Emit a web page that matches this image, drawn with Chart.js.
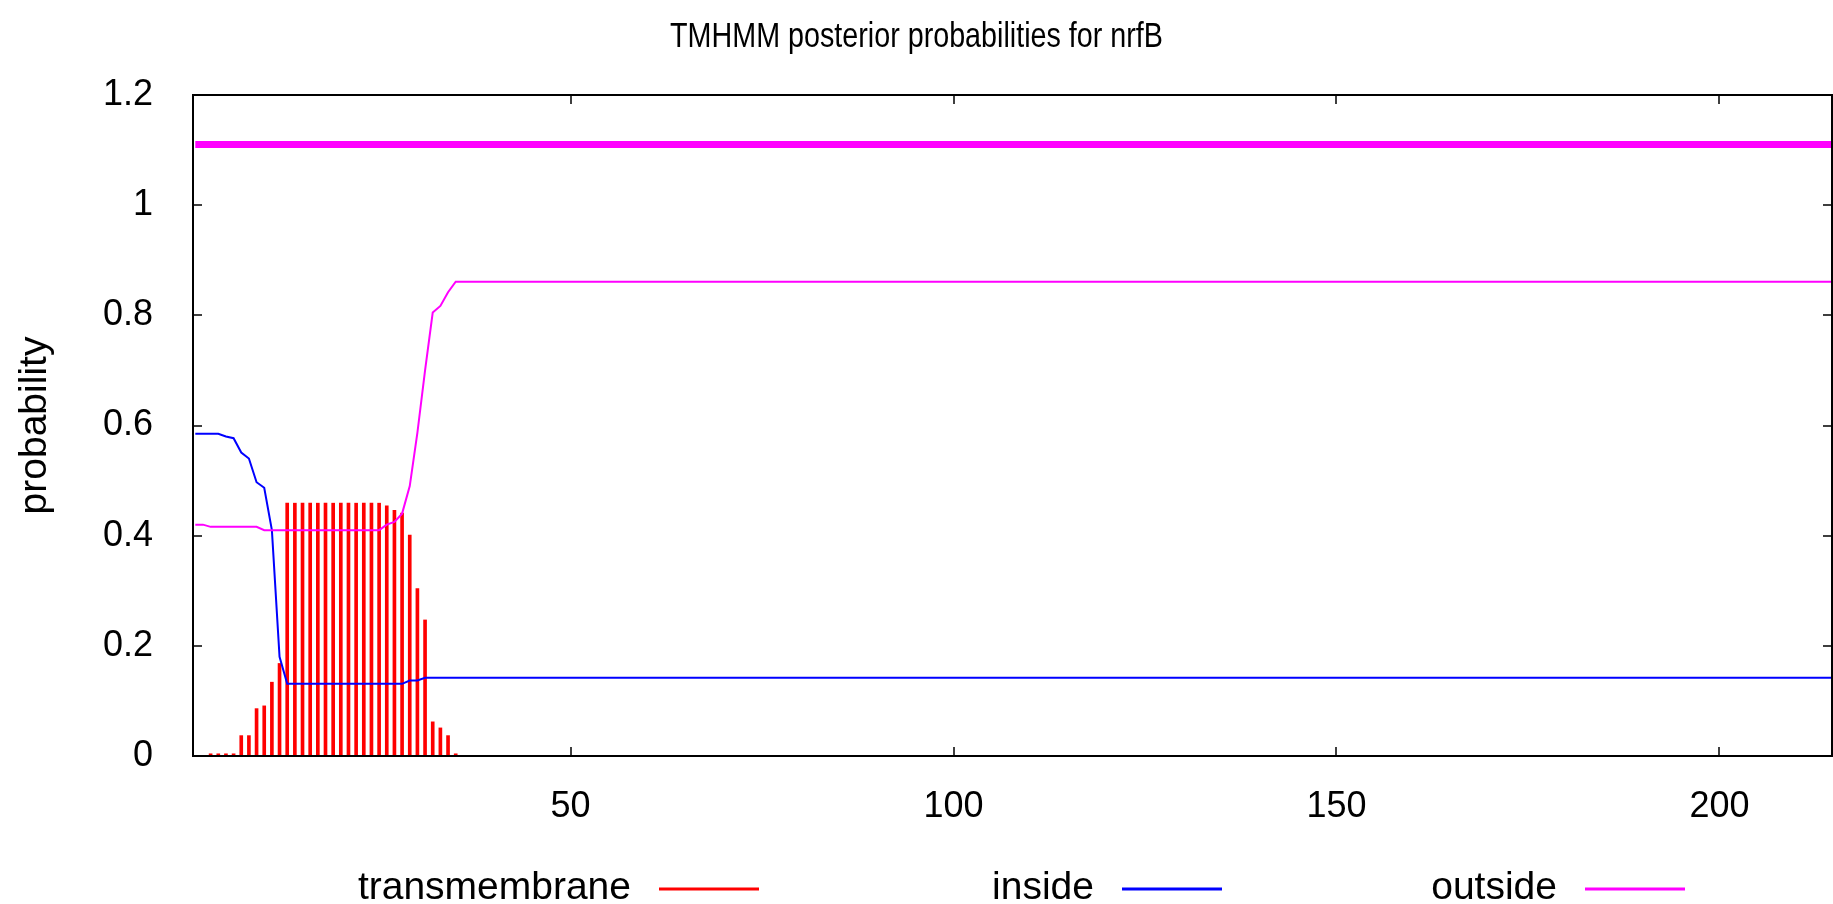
<!DOCTYPE html>
<html>
<head>
<meta charset="utf-8">
<title>TMHMM posterior probabilities for nrfB</title>
<script src="https://cdn.jsdelivr.net/npm/chart.js@4.4.0/dist/chart.umd.min.js"></script>
<style>
  html, body { margin: 0; padding: 0; background: #fff; }
  #wrap { width: 1833px; height: 904px; }
</style>
</head>
<body>
<div id="wrap"><canvas id="tmhmmChart" width="1833" height="904"></canvas></div>
<script>
// Global font settings
Chart.defaults.font.family = "'Liberation Sans', Arial, sans-serif";
Chart.defaults.font.size = 36;
Chart.defaults.color = '#000';

// Residue positions (only the first part of the sequence changes, the rest is flat)
const residues = [1, 2, 3, 4, 5, 6, 7, 8, 9, 10, 11, 12, 13, 14, 15, 16, 17, 18,
    19, 20, 21, 22, 23, 24, 25, 26, 27, 28, 29, 30, 31, 32, 33, 34, 35];
const seqLength = 215;

// Posterior probabilities
const transmembrane = [0, 0, 0.004, 0.004, 0.004, 0.004, 0.037, 0.037, 0.086, 0.091,
    0.134, 0.168, 0.459, 0.459, 0.459, 0.459, 0.459, 0.459, 0.459, 0.459, 0.459,
    0.459, 0.459, 0.459, 0.459, 0.454, 0.446, 0.441, 0.401, 0.304, 0.247, 0.062,
    0.051, 0.037, 0.004];
// inside / outside: values for residues 1..35, then the value held up to seqLength
const inside = [0.585, 0.585, 0.585, 0.585, 0.580, 0.577, 0.551, 0.540, 0.497, 0.487,
    0.41, 0.18, 0.131, 0.131, 0.131, 0.131, 0.131, 0.131, 0.131, 0.131, 0.131,
    0.131, 0.131, 0.131, 0.131, 0.131, 0.131, 0.131, 0.137, 0.137, 0.142, 0.142,
    0.142, 0.142, 0.142, 0.142];
const outside = [0.42, 0.42, 0.416, 0.416, 0.416, 0.416, 0.416, 0.416, 0.416, 0.41,
    0.41, 0.41, 0.41, 0.41, 0.41, 0.41, 0.41, 0.41, 0.41, 0.41, 0.41, 0.41, 0.41,
    0.41, 0.41, 0.42, 0.425, 0.44, 0.49, 0.587, 0.70, 0.805, 0.817, 0.842, 0.861,
    0.861];

// Predicted topology bar drawn above the curves
const topologyX = [1, seqLength];
const topologyY = [1.11, 1.11];

// Axis ticks
const xTicks = [50, 100, 150, 200];
const yTicks = [0, 0.2, 0.4, 0.6, 0.8, 1, 1.2];
const yTickLabels = ['0', '0.2', '0.4', '0.6', '0.8', '1', '1.2'];

const TITLE_TEXT = 'TMHMM posterior probabilities for nrfB';

const COLORS = {
    TM: 'rgb(255, 0, 0)',
    INSIDE: 'rgb(0, 0, 255)',
    OUTSIDE: 'rgb(255, 0, 255)',
    AXIS: '#000'
};
const FONT_FAMILY = "'Liberation Sans', Arial, sans-serif";
const TICK_LEN = 9;

const lineResidues = [...residues, seqLength];

function toPoints(xs, ys) {
    return xs.map((x, i) => ({ x: x, y: ys[i] }));
}

// Border box with inward ticks on all four sides (gnuplot style)
const framePlugin = {
    id: 'frame',
    afterDatasetsDraw(chart) {
        const { ctx, chartArea: a, scales: { x, y } } = chart;
        ctx.save();
        ctx.strokeStyle = COLORS.AXIS;
        ctx.lineWidth = 2;
        ctx.strokeRect(a.left, a.top, a.right - a.left, a.bottom - a.top);
        ctx.lineWidth = 1.5;
        ctx.beginPath();
        y.ticks.forEach(t => {
            const py = Math.round(y.getPixelForValue(t.value));
            ctx.moveTo(a.left, py);
            ctx.lineTo(a.left + TICK_LEN, py);
            ctx.moveTo(a.right, py);
            ctx.lineTo(a.right - TICK_LEN, py);
        });
        x.ticks.forEach(t => {
            const px = Math.round(x.getPixelForValue(t.value));
            ctx.moveTo(px, a.bottom);
            ctx.lineTo(px, a.bottom - TICK_LEN);
            ctx.moveTo(px, a.top);
            ctx.lineTo(px, a.top + TICK_LEN);
        });
        ctx.stroke();
        ctx.restore();
    }
};

// gnuplot's title font is tall and narrow: draw it horizontally squeezed
const titlePlugin = {
    id: 'narrowTitle',
    afterDraw(chart) {
        const ctx = chart.ctx;
        ctx.save();
        ctx.font = '35px ' + FONT_FAMILY;
        ctx.fillStyle = '#000';
        ctx.textAlign = 'center';
        ctx.textBaseline = 'middle';
        ctx.translate(chart.width / 2, 37);
        ctx.scale(0.82, 1);
        ctx.fillText(TITLE_TEXT, 0, 0);
        ctx.restore();
    }
};

// Key below the plot: label first, then a line sample
const keyPlugin = {
    id: 'key',
    afterDraw(chart) {
        const ctx = chart.ctx;
        const sets = chart.data.datasets.filter(d => d.inKey);
        const firstLine = 659, step = 463, lineLen = 100, gap = 28, yMid = 888;
        ctx.save();
        ctx.font = '39px ' + FONT_FAMILY;
        ctx.fillStyle = '#000';
        ctx.textAlign = 'right';
        ctx.textBaseline = 'middle';
        sets.forEach((d, i) => {
            const x0 = firstLine + i * step;
            ctx.fillText(d.label, x0 - gap, yMid);
            ctx.strokeStyle = d.keyColor;
            ctx.lineWidth = 3;
            ctx.beginPath();
            ctx.moveTo(x0, yMid + 1);
            ctx.lineTo(x0 + lineLen, yMid + 1);
            ctx.stroke();
        });
        ctx.restore();
    }
};

new Chart(document.getElementById('tmhmmChart'), {
    type: 'line',
    data: {
        datasets: [
            {
                type: 'bar',
                label: 'transmembrane',
                data: toPoints(residues, transmembrane),
                backgroundColor: COLORS.TM,
                borderWidth: 0,
                barThickness: 3,
                inKey: true,
                keyColor: COLORS.TM,
                order: 3
            },
            {
                label: 'inside',
                data: toPoints(lineResidues, inside),
                borderColor: COLORS.INSIDE,
                borderWidth: 2,
                pointRadius: 0,
                tension: 0,
                inKey: true,
                keyColor: COLORS.INSIDE,
                order: 2
            },
            {
                label: 'outside',
                data: toPoints(lineResidues, outside),
                borderColor: COLORS.OUTSIDE,
                borderWidth: 2,
                pointRadius: 0,
                tension: 0,
                inKey: true,
                keyColor: COLORS.OUTSIDE,
                order: 1
            },
            {
                label: 'topology',
                data: toPoints(topologyX, topologyY),
                borderColor: COLORS.OUTSIDE,
                borderWidth: 7,
                pointRadius: 0,
                inKey: false,
                order: 0
            }
        ]
    },
    options: {
        responsive: false,
        animation: false,
        events: [],
        layout: { padding: { left: 0, right: 1, top: 95, bottom: 68 } },
        plugins: {
            legend: { display: false },
            tooltip: { enabled: false },
            title: { display: false }
        },
        scales: {
            x: {
                type: 'linear',
                min: 0.7,
                max: 214.7,
                offset: false,
                grid: { display: false, drawTicks: false },
                border: { display: false },
                ticks: {
                    padding: 29,
                    maxRotation: 0,
                    callback: v => String(v)
                },
                afterBuildTicks: scale => { scale.ticks = xTicks.map(v => ({ value: v })); },
                afterFit: scale => { scale.height = 80; }
            },
            y: {
                type: 'linear',
                min: 0,
                max: 1.2,
                grid: { display: false, drawTicks: false },
                border: { display: false },
                ticks: {
                    padding: 40,
                    callback: v => yTickLabels[yTicks.indexOf(v)]
                },
                title: {
                    display: true,
                    text: 'probability',
                    font: { size: 39 },
                    padding: { top: 12, bottom: 0 }
                },
                afterBuildTicks: scale => { scale.ticks = yTicks.map(v => ({ value: v })); },
                afterFit: scale => { scale.width = 193; }
            }
        }
    },
    plugins: [framePlugin, titlePlugin, keyPlugin]
});
</script>
</body>
</html>
